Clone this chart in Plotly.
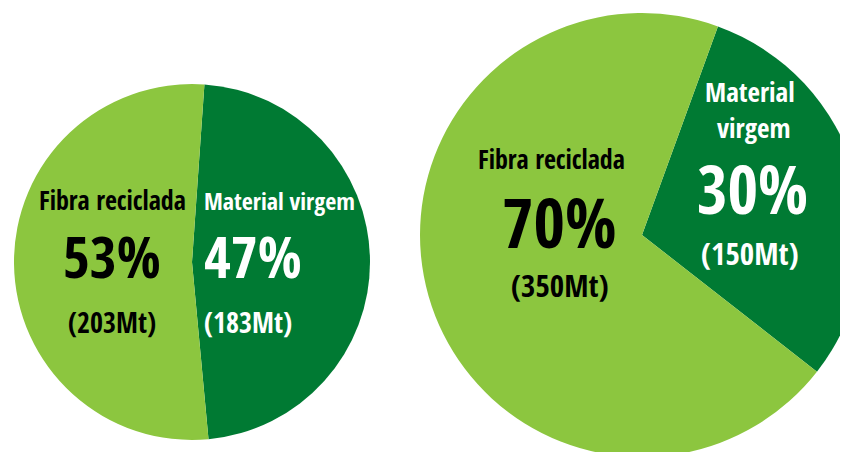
import plotly.graph_objects as go

# dados
categorias = ['Material virgem', 'Fibra reciclada']
mt_esquerda = [183, 203]
mt_direita = [150, 350]
cores = ['#007a33', '#8cc63f']
cores_texto = ['white', 'black']

# a pagina tem margem de 8px, entao o grafico comeca em (8, 8)
W, H = 860, 452
OFF = 8
fonte = 'Open Sans Condensed, Roboto Condensed, sans-serif'


def px(x):
    return (x - OFF) / W


def py(y):
    return 1 - (y - OFF) / H


def pct(vals):
    total = sum(vals)
    return [str(round(v * 100 / total)) + '%' for v in vals]


fig = go.Figure()

fig.add_trace(go.Pie(labels=categorias,
                     values=mt_esquerda,
                     marker_colors=cores,
                     sort=False,
                     direction='clockwise',
                     rotation=4,
                     textinfo='none',
                     hoverinfo='label+value+percent',
                     domain=dict(x=[px(14), px(370)], y=[py(440), py(84)]),
                     showlegend=False))

fig.add_trace(go.Pie(labels=categorias,
                     values=mt_direita,
                     marker_colors=cores,
                     sort=False,
                     direction='clockwise',
                     rotation=20,
                     textinfo='none',
                     hoverinfo='label+value+percent',
                     domain=dict(x=[px(420), px(864)], y=[py(457), py(13)]),
                     showlegend=False))


def rotulo(texto, x, y, tam, cor, xanchor='center'):
    fig.add_annotation(text='<b>' + texto + '</b>', x=px(x), y=py(y),
                       xref='paper', yref='paper', showarrow=False,
                       xanchor=xanchor, yanchor='middle', borderpad=0,
                       font=dict(family=fonte, size=tam, color=cor))


pe = pct(mt_esquerda)
pdir = pct(mt_direita)

# pizza da esquerda
rotulo(categorias[1], 112, 200, 26, cores_texto[1])
rotulo(pe[1], 112, 256, 58, cores_texto[1])
rotulo('(' + str(mt_esquerda[1]) + 'Mt)', 112, 322, 28, cores_texto[1])
rotulo(categorias[0], 203, 200, 24, cores_texto[0], 'left')
rotulo(pe[0], 203, 256, 58, cores_texto[0], 'left')
rotulo('(' + str(mt_esquerda[0]) + 'Mt)', 203, 322, 28, cores_texto[0], 'left')

# pizza da direita
rotulo(categorias[1], 551, 159, 26, cores_texto[1])
rotulo(pdir[1], 559, 222, 68, cores_texto[1])
rotulo('(' + str(mt_direita[1]) + 'Mt)', 560, 285, 31, cores_texto[1])
rotulo(categorias[0].split(' ')[0], 750, 91, 27, cores_texto[0])
rotulo(categorias[0].split(' ')[1], 753, 127, 27, cores_texto[0])
rotulo(pdir[0], 752, 188, 66, cores_texto[0])
rotulo('(' + str(mt_direita[0]) + 'Mt)', 750, 253, 31, cores_texto[0])

fig.update_layout(width=W, height=H,
                  margin=dict(l=0, r=0, t=0, b=0),
                  paper_bgcolor='white',
                  plot_bgcolor='white')

fig.write_html('out.html')
